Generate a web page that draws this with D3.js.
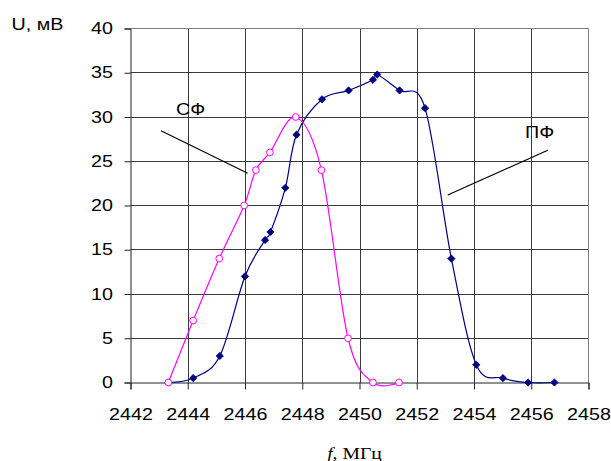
<!DOCTYPE html>
<html>
<head>
<meta charset="utf-8">
<script src="https://cdn.jsdelivr.net/npm/d3@7"></script>
<style>
  html, body { margin: 0; padding: 0; background: #fff; }
  svg { display: block; }
</style>
</head>
<body>
<svg id="chart" width="611" height="461" font-family="Arial, 'Liberation Sans', sans-serif"></svg>
<script>
// --- data ---
const xTicks = [2442, 2444, 2446, 2448, 2450, 2452, 2454, 2456, 2458];
const yTicks = [0, 5, 10, 15, 20, 25, 30, 35, 40];

const sfFreq = [2443.32, 2444.19, 2445.10, 2445.97, 2446.38, 2446.87, 2447.77, 2448.67, 2449.60, 2450.47, 2451.38];
const sfU    = [0, 7, 14, 20, 24, 26, 30, 24, 5, 0, 0];

const pfFreq = [2443.32, 2444.19, 2445.12, 2446.00, 2446.70, 2446.89, 2447.41, 2447.80, 2448.69, 2449.62, 2450.47, 2450.62, 2451.40, 2452.29, 2453.21, 2454.08, 2455.01, 2455.89, 2456.81];
const pfU    = [0, 0.5, 3, 12, 16.1, 17, 22, 28, 32, 33, 34.2, 34.8, 33, 31, 14, 2, 0.5, 0, 0];

const seriesLabels = ["СФ", "ПФ"];
const yTitle = "U, мВ";
const xTitleItalic = "f";
const xTitleRest = ", МГц";

// --- layout ---
const SX = 1.23;          // horizontal stretch of the text in the reference
const FS = 16;
const svg = d3.select("#chart");
const x = d3.scaleLinear().domain([2442, 2458]).range([130.5, 588.5]);
const y = d3.scaleLinear().domain([0, 40]).range([382.5, 28.5]);

const gridColor = "#3a3a3a";

// gridlines
svg.append("g").selectAll("line").data(xTicks.slice(1, -1)).join("line")
  .attr("x1", d => Math.round(x(d)) + 0.5).attr("x2", d => Math.round(x(d)) + 0.5)
  .attr("y1", y(40)).attr("y2", y(0))
  .attr("stroke", gridColor).attr("stroke-width", 1);
svg.append("g").selectAll("line").data(yTicks.slice(1, -1)).join("line")
  .attr("x1", x(2442)).attr("x2", x(2458))
  .attr("y1", d => Math.round(y(d) - 0.5) + 0.5).attr("y2", d => Math.round(y(d) - 0.5) + 0.5)
  .attr("stroke", gridColor).attr("stroke-width", 1);

// frame top/right
svg.append("line").attr("x1", x(2442)).attr("x2", x(2458)).attr("y1", y(40)).attr("y2", y(40))
  .attr("stroke", "#808080");
svg.append("line").attr("x1", x(2458)).attr("x2", x(2458)).attr("y1", y(40)).attr("y2", y(0))
  .attr("stroke", "#808080");

// axes
const xAxis = d3.axisBottom(x).tickValues(xTicks).tickSize(7).tickPadding(19).tickFormat(d3.format("d"));
const gx = svg.append("g").attr("transform", `translate(0,${y(0)})`).call(xAxis);
gx.select(".domain").attr("stroke", "#222");
gx.selectAll(".tick line").attr("stroke", "#222");
gx.selectAll("text").attr("font-size", FS).attr("font-family", null).attr("fill", "#000")
  .attr("transform", `scale(${SX},1)`);

const yAxis = d3.axisLeft(y).tickValues(yTicks).tickSize(6).tickPadding(11);
const gy = svg.append("g").attr("transform", `translate(${x(2442)},0)`).call(yAxis);
gy.attr("font-family", null);
gx.attr("font-family", null);
gy.select(".domain").attr("stroke", "#222");
gy.selectAll(".tick line").attr("stroke", "#222");
gy.selectAll("text").attr("font-size", FS).attr("fill", "#000")
  .attr("x", 0).attr("transform", `translate(-17.5,0) scale(${SX},1)`);

// curves
const line = d3.line().x(d => x(d[0])).y(d => y(d[1])).curve(d3.curveCardinal.tension(0));
const sfData = sfFreq.map((f, i) => [f, sfU[i]]);
const pfData = pfFreq.map((f, i) => [f, pfU[i]]);

svg.append("path").datum(pfData).attr("d", line)
  .attr("fill", "none").attr("stroke", "#000080").attr("stroke-width", 1.2);
svg.append("path").datum(sfData).attr("d", line)
  .attr("fill", "none").attr("stroke", "#FF00FF").attr("stroke-width", 1.2);

// markers
svg.append("g").selectAll("path").data(pfData).join("path")
  .attr("transform", d => `translate(${x(d[0])},${y(d[1])}) rotate(45)`)
  .attr("d", d3.symbol().type(d3.symbolSquare).size(26))
  .attr("fill", "#000080").attr("stroke", "#000080").attr("stroke-width", 0.8);

svg.append("g").selectAll("circle").data(sfData).join("circle")
  .attr("cx", d => x(d[0])).attr("cy", d => y(d[1])).attr("r", 3.4)
  .attr("fill", "#fff").attr("stroke", "#FF00FF").attr("stroke-width", 1);

// helper for stretched text
function stretchedText(px, py, str, size) {
  return svg.append("text").attr("transform", `translate(${px},${py}) scale(${SX},1)`)
    .attr("font-size", size).attr("fill", "#000").text(str);
}

// series labels with leader lines
stretchedText(176, 114.5, seriesLabels[0], FS);
svg.append("line").attr("x1", 161).attr("y1", 130.7).attr("x2", 247.7).attr("y2", 173.3)
  .attr("stroke", "#000").attr("stroke-width", 1.2);

stretchedText(525, 137.5, seriesLabels[1], FS);
svg.append("line").attr("x1", 547.7).attr("y1", 150.3).attr("x2", 447.7).attr("y2", 195)
  .attr("stroke", "#000").attr("stroke-width", 1.2);

// axis titles
stretchedText(11.5, 29.5, yTitle, FS);

const xt = svg.append("text").attr("transform", `translate(354.5,458.5) scale(${SX},1)`)
  .attr("text-anchor", "middle").attr("fill", "#000")
  .attr("font-family", "'Times New Roman', 'Liberation Serif', serif").attr("font-size", 16);
xt.append("tspan").attr("font-style", "italic").text(xTitleItalic);
xt.append("tspan").text(xTitleRest);
</script>
</body>
</html>
